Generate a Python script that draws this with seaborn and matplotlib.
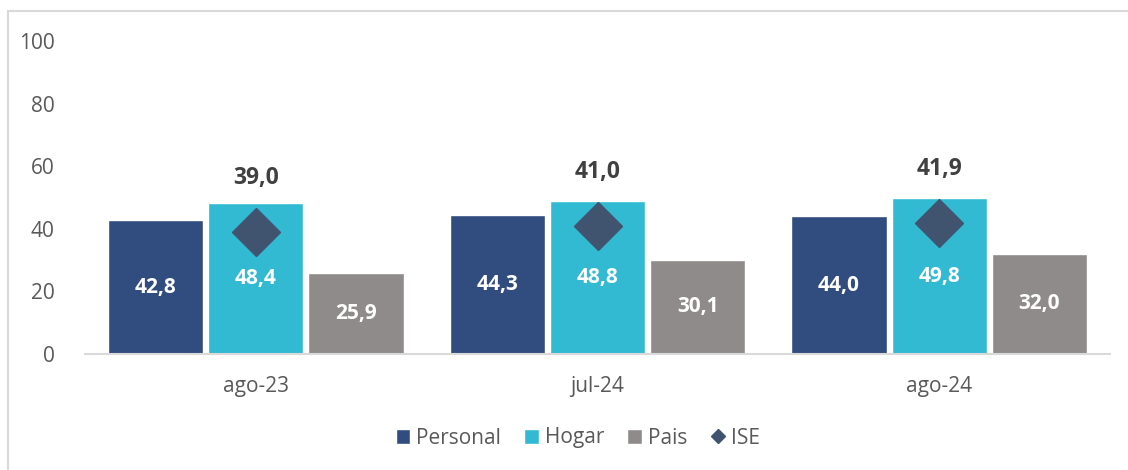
import numpy as np
import pandas as pd
import matplotlib
matplotlib.use('Agg')
import matplotlib.pyplot as plt
import seaborn as sns
from matplotlib.lines import Line2D
from matplotlib.patches import Rectangle

# Data
periods = ['ago-23', 'jul-24', 'ago-24']
personal = [42.8, 44.3, 44.0]
hogar = [48.4, 48.8, 49.8]
pais = [25.9, 30.1, 32.0]
ise = [39.0, 41.0, 41.9]

series_names = ['Personal', 'Hogar', 'Pais']
colors = {'Personal': '#314C7E', 'Hogar': '#33BAD3', 'Pais': '#8F8B8A'}
ise_color = '#41546F'

df = pd.DataFrame({
    'periodo': periods * 3,
    'serie': np.repeat(series_names, len(periods)),
    'valor': personal + hogar + pais,
})

sns.set_style('white')
plt.rcParams['font.family'] = ['Open Sans', 'DejaVu Sans']

fig = plt.figure(figsize=(11.28, 4.70), dpi=100)
ax = fig.add_axes([85 / 1128, 1 - 354 / 470, (1110 - 85) / 1128, (354 - 41) / 470])

sns.barplot(
    data=df,
    x='periodo',
    y='valor',
    hue='serie',
    hue_order=series_names,
    order=periods,
    palette=colors,
    width=0.88,
    gap=0.05,
    saturation=1,
    ax=ax,
)

fmt = lambda v: f'{v:.1f}'.replace('.', ',')
for cont in ax.containers:
    ax.bar_label(cont, labels=[fmt(b.get_height()) for b in cont],
                 label_type='center', color='white', fontsize=15, fontweight='bold')

# ISE diamonds at category centres
xpos = np.arange(len(periods))
ax.plot(xpos, ise, linestyle='none', marker='D', markersize=24,
        color=ise_color, label='ISE', zorder=5)
for x, v in zip(xpos, ise):
    ax.annotate(fmt(v), (x, v), xytext=(0, 39), textcoords='offset points',
                ha='center', va='center', fontsize=16.5, fontweight='bold', color='#404040')

ax.set_ylim(0, 100)
ax.set_xlim(-0.5, 2.5)
ax.set_yticks([0, 20, 40, 60, 80, 100])
ax.set_xlabel('')
ax.set_ylabel('')
ax.tick_params(axis='both', length=0, labelsize=15, labelcolor='#595959')
ax.tick_params(axis='x', pad=16)
ax.tick_params(axis='y', pad=22)
for s in ['top', 'right', 'left']:
    ax.spines[s].set_visible(False)
ax.spines['bottom'].set_color('#D9D9D9')
ax.spines['bottom'].set_linewidth(1.5)
ax.grid(False)

handles, labels = ax.get_legend_handles_labels()
order = ['Personal', 'Hogar', 'Pais', 'ISE']
hmap = dict(zip(labels, handles))
legend_handles = [hmap[k] for k in order[:3]] + [
    Line2D([], [], linestyle='none', marker='D', markersize=7, color=ise_color)]
ax.legend(legend_handles, order, loc='center', bbox_to_anchor=(578 / 1128, 1 - 438 / 470),
          bbox_transform=fig.transFigure, ncol=4, frameon=False, fontsize=15,
          labelcolor='#595959', handlelength=0.7, handleheight=0.7, handletextpad=0.3,
          columnspacing=1.1)

# light frame like the original chart area
fig.patches.append(Rectangle((7.5 / 1128, -0.1), 1.2, 1 - 11.5 / 470 + 0.1,
                             transform=fig.transFigure, fill=False,
                             edgecolor='#D9D9D9', linewidth=1.5))

fig.savefig('out.png', dpi=100)
